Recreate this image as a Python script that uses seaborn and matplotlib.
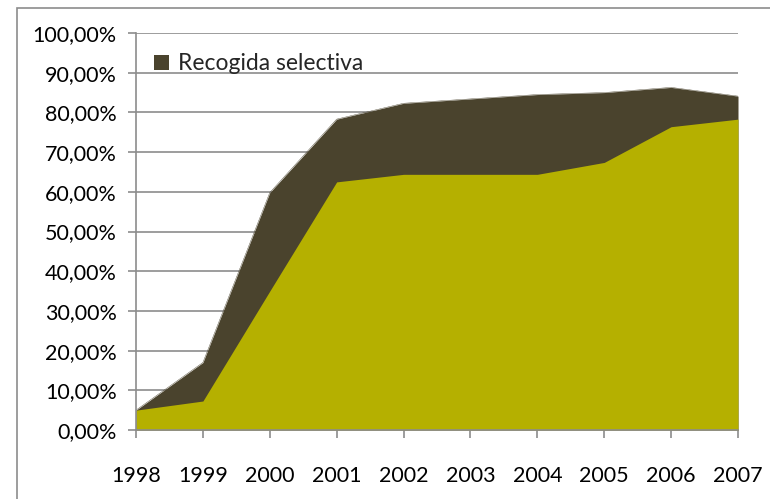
import matplotlib
matplotlib.use("Agg")
import matplotlib.pyplot as plt
import seaborn as sns
import pandas as pd
from matplotlib.patches import Rectangle

# values (percent)
years = [1998, 1999, 2000, 2001, 2002, 2003, 2004, 2005, 2006, 2007]
base = [5.0, 7.3, 35.0, 62.5, 64.4, 64.4, 64.4, 67.4, 76.4, 78.3]
recogida_selectiva = [0.0, 9.7, 24.8, 15.8, 17.9, 19.0, 20.1, 17.6, 9.9, 5.8]

y_ticks = [0, 10, 20, 30, 40, 50, 60, 70, 80, 90, 100]

df = pd.DataFrame({"year": years, "base": base, "sel": recogida_selectiva})
df["total"] = df["base"] + df["sel"]

sns.set_style("white")
plt.rcParams["font.family"] = ["Lato", "DejaVu Sans"]

fig = plt.figure(figsize=(7.70, 4.99), dpi=100)
ax = fig.add_axes([136 / 770, 1 - 430 / 499, (738 - 136) / 770, (430 - 33) / 499])

# outer chart frame (cut off at the right and bottom like the original)
fig.patches.append(Rectangle((17 / 770, -0.1), 1.2, 1 - 8 / 499 + 0.1,
                             transform=fig.transFigure, fill=False,
                             edgecolor="#8c8c8c", linewidth=1.2))

dark = "#4a432d"
olive = "#b5b000"
ax.fill_between(df["year"], 0, df["total"], color=dark, linewidth=0,
                label="Recogida selectiva", zorder=2)
ax.fill_between(df["year"], 0, df["base"], color=olive, linewidth=0, zorder=3)
sns.lineplot(data=df, x="year", y="total", ax=ax, color=dark, linewidth=0.3, zorder=2)

ax.set_xlim(1998, 2007)
ax.set_ylim(0, 100)
ax.set_xticks(years)
ax.set_yticks(y_ticks)
ax.set_xticklabels([str(y) for y in years])
ax.set_yticklabels([f"{v:.2f}%".replace(".", ",") for v in y_ticks])
ax.set_xlabel("")
ax.set_ylabel("")

ax.grid(axis="y", color="#8c8c8c", linewidth=1.2, zorder=0)
ax.set_axisbelow(True)
for s in ["top", "right"]:
    ax.spines[s].set_visible(False)
for s in ["left", "bottom"]:
    ax.spines[s].set_color("#8c8c8c")
    ax.spines[s].set_linewidth(1.2)
    ax.spines[s].set_zorder(5)

ax.tick_params(axis="both", colors="#8c8c8c", labelcolor="black",
               labelsize=15.5, length=6, width=1.2, direction="out")
ax.tick_params(axis="x", pad=20)
ax.tick_params(axis="y", pad=8, left=True)
ax.tick_params(axis="x", bottom=True)

leg = ax.legend(loc="upper left", bbox_to_anchor=(0.0, 0.995), frameon=False,
                fontsize=16.5, handlelength=0.65, handleheight=0.65,
                handletextpad=0.4, borderaxespad=0.4)

fig.savefig("out.png", dpi=100)
